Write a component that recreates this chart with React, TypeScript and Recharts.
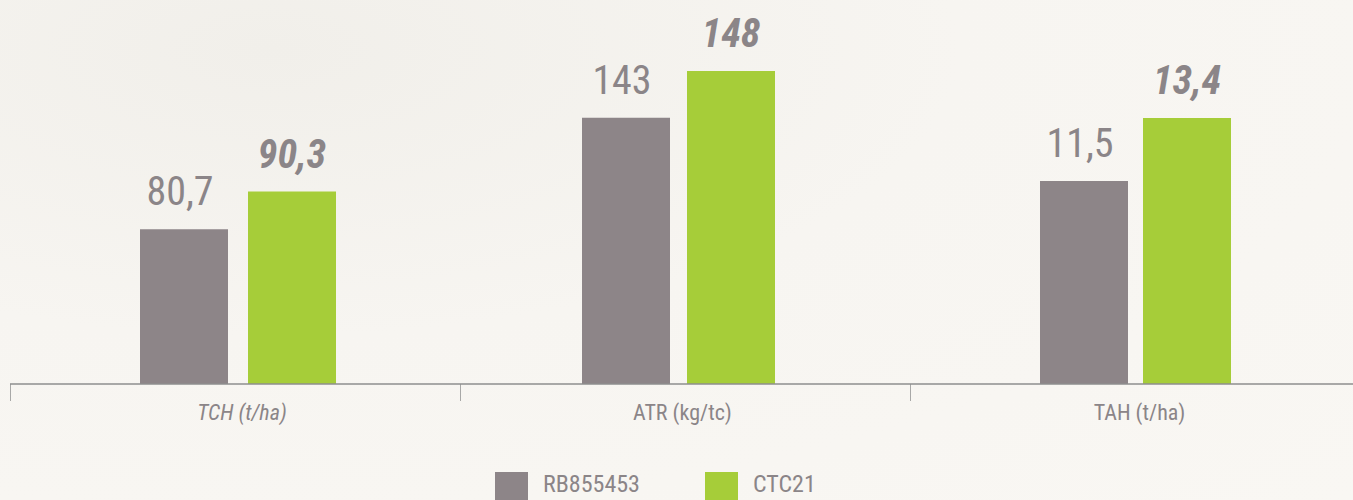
import React from 'react';
import { BarChart, Bar, XAxis, YAxis, LabelList } from 'recharts';

const categories = ['TCH (t/ha)', 'ATR (kg/tc)', 'TAH (t/ha)'];
const rb855453 = [80.7, 143, 11.5];
const ctc21 = [90.3, 148, 13.4];
const seriesNames = ['RB855453', 'CTC21'];
// each group is drawn on its own scale in the original
const yDomains: [number, number][] = [
    [41.2, 139.2],
    [114.5, 155.6],
    [5.38, 16.96],
];

const GRAY = '#8d8588';
const GREEN = '#a6cd39';
const TEXT = '#8b8588';
const AXIS = '#8e8e8e';
const FONT = '"Liberation Sans Narrow", "Arial Narrow", "Roboto Condensed", Roboto, sans-serif';

const groupLayout = [
    { gap: 20, pad: { left: 6, right: 0 }, italic: true },
    { gap: 17, pad: { left: 0, right: 13 }, italic: false },
    { gap: 15, pad: { left: 1, right: 0 }, italic: false },
];

const fmt = (v: number) => (Number.isInteger(v) ? String(v) : v.toFixed(1).replace('.', ','));

const CategoryTick = (props: any) => {
    const { x, y, payload, italic, padLeft } = props;
    const edge = x - (payload.offset ?? 0) - padLeft;
    return (
        <g>
            <line x1={edge} y1={y} x2={edge} y2={y + 17} stroke={AXIS} strokeWidth={1.5} />
            <text
                x={x + 4}
                y={y + 36}
                textAnchor="middle"
                fill={TEXT}
                fontFamily={FONT}
                fontSize={22}
                fontStyle={italic ? 'italic' : 'normal'}
            >
                {payload.value}
            </text>
        </g>
    );
};

const ValueLabel = (props: any) => {
    const { x, y, width, value, bold } = props;
    return (
        <text
            x={x + width / 2 + (bold ? 0 : -4)}
            y={y - 24}
            textAnchor="middle"
            fill={TEXT}
            fontFamily={FONT}
            fontSize={40}
            fontWeight={bold ? 700 : 400}
            fontStyle={bold ? 'italic' : 'normal'}
        >
            {fmt(value)}
        </text>
    );
};

export default function App() {
    return (
        <div
            style={{
                position: 'absolute',
                left: 0,
                top: 0,
                width: 1353,
                height: 500,
                overflow: 'hidden',
                background: 'radial-gradient(ellipse at 20% 10%, #f1efea 0%, #f7f5f1 45%, #f9f7f3 100%)',
            }}
        >
            {categories.map((cat, i) => {
                const data = [{ name: cat, rb: rb855453[i], ctc: ctc21[i] }];
                const lay = groupLayout[i];
                return (
                    <div key={cat} style={{ position: 'absolute', left: 10 + 450 * i, top: 0 }}>
                        <BarChart
                            width={450}
                            height={500}
                            data={data}
                            margin={{ top: 0, right: 0, left: 0, bottom: 86 }}
                            barGap={lay.gap}
                        >
                            <XAxis
                                dataKey="name"
                                height={30}
                                padding={lay.pad}
                                axisLine={{ stroke: AXIS, strokeWidth: 1.5 }}
                                tickLine={false}
                                tickSize={0}
                                tickMargin={0}
                                interval={0}
                                tick={<CategoryTick italic={lay.italic} padLeft={lay.pad.left} />}
                            />
                            <YAxis hide type="number" domain={yDomains[i]} allowDataOverflow />
                            <Bar dataKey="rb" name={seriesNames[0]} fill={GRAY} barSize={88} isAnimationActive={false}>
                                <LabelList dataKey="rb" content={<ValueLabel />} />
                            </Bar>
                            <Bar dataKey="ctc" name={seriesNames[1]} fill={GREEN} barSize={88} isAnimationActive={false}>
                                <LabelList dataKey="ctc" content={<ValueLabel bold />} />
                            </Bar>
                        </BarChart>
                    </div>
                );
            })}
            <div style={{ position: 'absolute', left: 495, top: 472, display: 'flex', fontFamily: FONT }}>
                {seriesNames.map((n, i) => (
                    <div key={n} style={{ display: 'flex', alignItems: 'flex-start', width: 210 }}>
                        <div style={{ width: 33, height: 33, background: i === 0 ? GRAY : GREEN }} />
                        <span
                            style={{ marginLeft: 15, marginTop: -1, fontSize: 24, lineHeight: '27px', color: TEXT }}
                        >
                            {n}
                        </span>
                    </div>
                ))}
            </div>
        </div>
    );
}
